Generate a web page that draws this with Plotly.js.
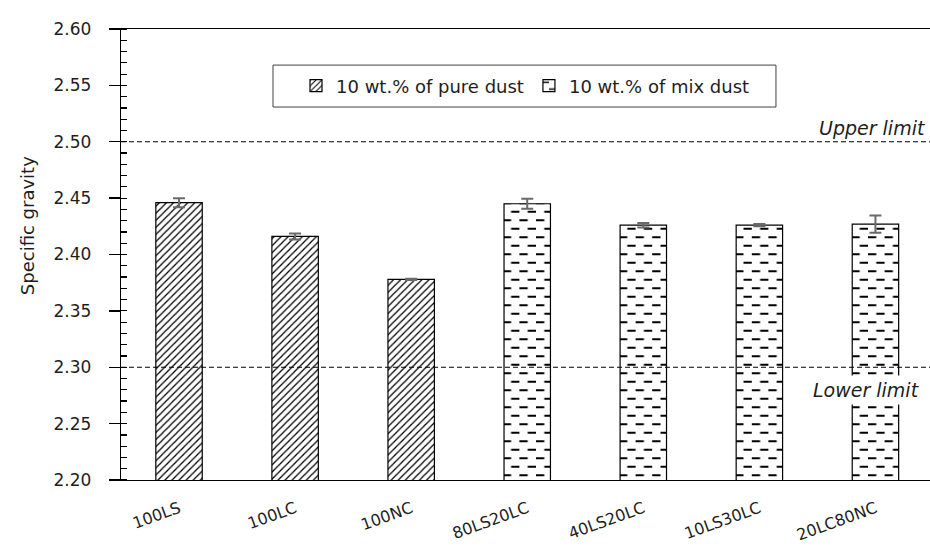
<!DOCTYPE html>
<html><head><meta charset="utf-8">
<script src="https://cdn.plot.ly/plotly-3.0.1.min.js"></script>
<style>html,body{margin:0;padding:0;background:#fff}#chart{width:930px;height:548px}</style>
</head><body><div id="chart"></div>
<script>
// ---- data ----
const categories = ['100LS','100LC','100NC','80LS20LC','40LS20LC','10LS30LC','20LC80NC'];
const pureCategories = ['100LS','100LC','100NC'];
const pureValues = [2.446, 2.416, 2.378];
const pureErrors = [0.004, 0.0027, 0.0006];
const mixCategories = ['80LS20LC','40LS20LC','10LS30LC','20LC80NC'];
const mixValues = [2.445, 2.426, 2.426, 2.427];
const mixErrors = [0.0045, 0.002, 0.001, 0.0077];
const seriesNames = ['10 wt.% of pure dust', '10 wt.% of mix dust'];
const upperLimit = 2.50;
const lowerLimit = 2.30;
const limitLabels = ['Upper limit', 'Lower limit'];
const yTitle = 'Specific gravity';

const FONT = 'DejaVu Sans';
const TXT = '#1e1e1e';
const errStyle = {type:'data', visible:true, color:'#6a6a6a', thickness:2, width:6};

const traces = [
  {type:'bar', name:seriesNames[0], x:pureCategories, y:pureValues, width:0.4,
   marker:{color:'white', line:{color:'black', width:1.2},
           pattern:{shape:'/', size:5, solidity:0.25, fgcolor:'#000000', bgcolor:'white', fillmode:'replace'}},
   error_y:Object.assign({array:pureErrors}, errStyle)},
  {type:'bar', name:seriesNames[1], x:mixCategories, y:mixValues, width:0.4,
   marker:{color:'white', line:{color:'black', width:1.2},
           pattern:{shape:'-', size:8.5, solidity:0.2, fgcolor:'#010101', bgcolor:'white', fillmode:'replace'}},
   error_y:Object.assign({array:mixErrors}, errStyle)}
];

const layout = {
  width:930, height:548,
  margin:{l:121, r:0, t:29, b:68, pad:0},
  paper_bgcolor:'white', plot_bgcolor:'white',
  barmode:'overlay',
  font:{family:FONT, size:17, color:TXT},
  xaxis:{type:'category', categoryorder:'array', categoryarray:categories,
         range:[-0.5, 6.47], showline:true, linecolor:'black', linewidth:1.3, mirror:true,
         ticks:'', tickangle:-20, tickfont:{size:16}, ticklabelstandoff:12,
         showgrid:false, zeroline:false, automargin:false},
  yaxis:{range:[2.2, 2.6], tick0:2.2, dtick:0.05, tickformat:'.2f',
         ticks:'outside', ticklen:11, tickwidth:1.3, tickcolor:'black',
         showline:true, linecolor:'black', linewidth:1.3, showgrid:false, zeroline:false,
         minor:{dtick:0.01, ticks:'inside', ticklen:6, tickwidth:1.2, tickcolor:'black', showgrid:false},
         ticklabelstandoff:14, automargin:false, tickfont:{size:17}},
  showlegend:true,
  legend:{orientation:'h', x:0.5, xanchor:'center', y:0.8736, yanchor:'middle',
          bgcolor:'rgba(0,0,0,0)', borderwidth:0, font:{size:18}},
  shapes:[
    {type:'rect', xref:'paper', x0:0.1879, x1:0.8096, yref:'paper', y0:0.827, y1:0.920,
     fillcolor:'white', line:{color:'#404040', width:1}, layer:'below'},
    {type:'line', xref:'paper', x0:0, x1:1, yref:'y', y0:upperLimit, y1:upperLimit,
     line:{color:'black', width:1, dash:'5px,3px'}},
    {type:'line', xref:'paper', x0:0, x1:1, yref:'y', y0:lowerLimit, y1:lowerLimit,
     line:{color:'black', width:1, dash:'5px,3px'}}
  ],
  annotations:[
    {xref:'paper', x:-0.1162, xanchor:'center', yref:'paper', y:0.565, yanchor:'middle',
     text:yTitle, textangle:-90, showarrow:false, font:{size:18, color:TXT}},
    {xref:'paper', x:1, xanchor:'right', xshift:-2, yref:'y', y:upperLimit, yanchor:'bottom', yshift:1,
     text:limitLabels[0], showarrow:false, font:{size:19, style:'italic', color:TXT}},
    {xref:'paper', x:1, xanchor:'right', xshift:-6, yref:'y', y:lowerLimit, yanchor:'top', yshift:-8,
     text:limitLabels[1], showarrow:false, bgcolor:'white', borderpad:3,
     font:{size:19, style:'italic', color:TXT}}
  ]
};

function brickify() {
  const NS = 'http://www.w3.org/2000/svg';
  const D = 8.3, R = 8.5, SW = 1.9;
  document.querySelectorAll('#chart pattern').forEach(p => {
    const path = p.querySelector('path');
    if (!path) return;
    const s = ((path.getAttribute('stroke') || '') + ' ' + (path.style.stroke || '')).toLowerCase();
    if (!(/1,\s*1,\s*1\)/.test(s) || /010101/.test(s))) return;
    p.setAttribute('width', 2 * D);
    p.setAttribute('height', 2 * R);
    p.removeAttribute('viewBox');
    while (p.firstChild) p.removeChild(p.firstChild);
    const rect = document.createElementNS(NS, 'rect');
    rect.setAttribute('width', 2 * D); rect.setAttribute('height', 2 * R);
    rect.setAttribute('fill', 'white');
    p.appendChild(rect);
    const pa = document.createElementNS(NS, 'path');
    pa.setAttribute('d', `M0,${R/2}H${D}M${D},${R*1.5}H${2*D}`);
    pa.setAttribute('stroke', '#000'); pa.setAttribute('stroke-width', SW);
    p.appendChild(pa);
  });
}

Plotly.newPlot('chart', traces, layout, {staticPlot:true, displayModeBar:false}).then(brickify);
</script>
</body></html>
